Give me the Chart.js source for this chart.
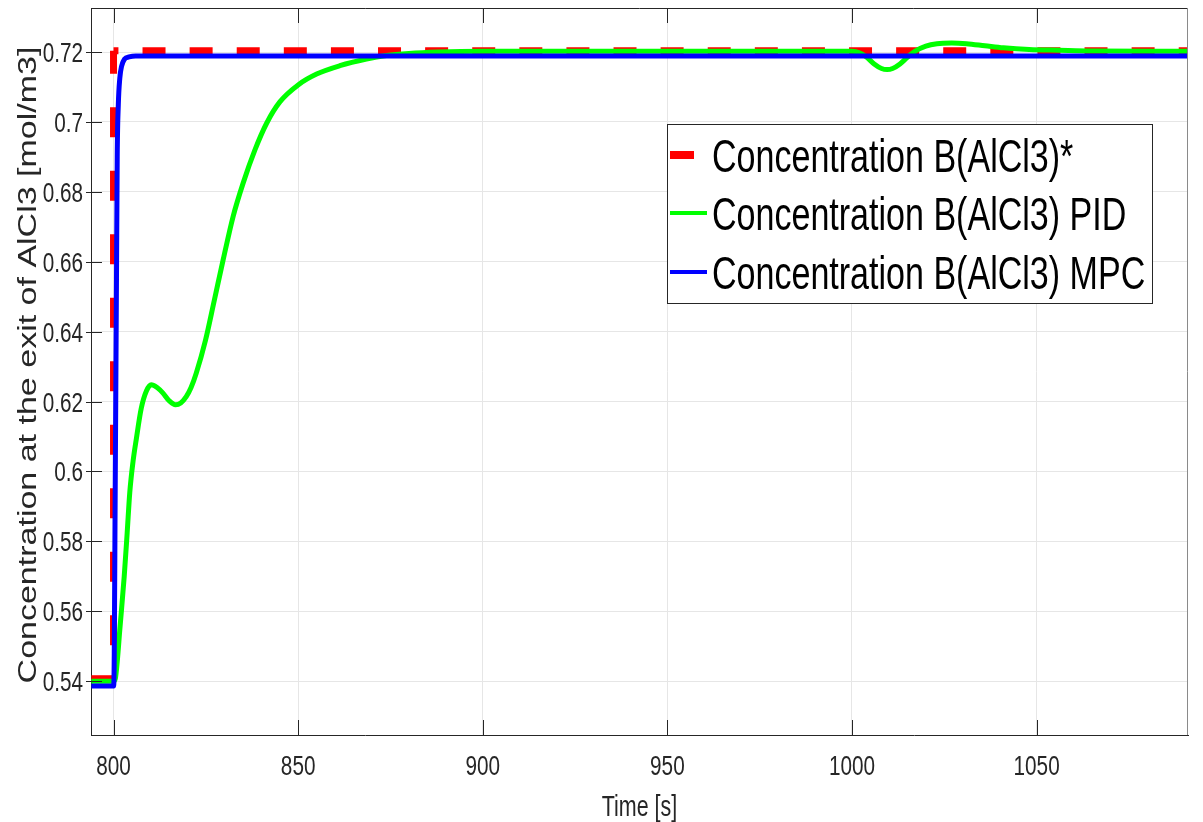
<!DOCTYPE html>
<html>
<head>
<meta charset="utf-8">
<title>Concentration B(AlCl3)</title>
<script src="https://cdn.jsdelivr.net/npm/chart.js@4.4.1/dist/chart.umd.min.js"></script>
<style>
  html, body { margin: 0; padding: 0; background: #fff; }
  #wrap { width: 1203px; height: 822px; position: relative; }
</style>
</head>
<body>
<div id="wrap"><canvas id="myChart"></canvas></div>
<script>
// Reference (setpoint) B(AlCl3)*
const refTime = [794, 800, 800, 1091];
const refConc = [0.5407, 0.5407, 0.7204, 0.7204];

// PID response
const pidTime = [794, 800, 800.5, 801, 801.7, 802.9, 803.7, 804.4, 805.3, 806.2, 807.5, 808.9, 810.2, 811.8, 813.4, 815, 816.8, 818.2, 819.7, 821, 822.4, 824.9, 827.3, 829.7, 832.4, 835.1, 838.3, 841.5, 845.1, 850, 855, 861.3, 868.5, 873.9, 880, 888, 900, 1000, 1002, 1004, 1006, 1008, 1009.5, 1011, 1013, 1015, 1017, 1020, 1023, 1027, 1031, 1036, 1041, 1048, 1056, 1065, 1091];
const pidConc = [0.540, 0.540, 0.5408, 0.5455, 0.5547, 0.5700, 0.5825, 0.5940, 0.6030, 0.6095, 0.6180, 0.6230, 0.6248, 0.6240, 0.6224, 0.6203, 0.6191, 0.6196, 0.6214, 0.6240, 0.6281, 0.6375, 0.6490, 0.6606, 0.6730, 0.6825, 0.6920, 0.6997, 0.7058, 0.7106, 0.7137, 0.7161, 0.7180, 0.7190, 0.7196, 0.7200, 0.7202, 0.7202, 0.7198, 0.7185, 0.7166, 0.7153, 0.7150, 0.7153, 0.7166, 0.7185, 0.7202, 0.7217, 0.7224, 0.7226, 0.7224, 0.7218, 0.7212, 0.7207, 0.7205, 0.7203, 0.7202];

// MPC response
const mpcTime = [794, 800.05, 800.2, 800.4, 800.6, 800.8, 801.0, 801.3, 801.7, 802.2, 803.0, 804.2, 806, 1091];
const mpcConc = [0.5386, 0.5386, 0.548, 0.585, 0.62, 0.655, 0.69, 0.705, 0.7125, 0.716, 0.718, 0.7186, 0.7189, 0.7189];

// axes
const xTicks = [800, 850, 900, 950, 1000, 1050];
const xTickLabels = ["800", "850", "900", "950", "1000", "1050"];
const yTicks = [0.54, 0.56, 0.58, 0.6, 0.62, 0.64, 0.66, 0.68, 0.7, 0.72];
const yTickLabels = ["0.54", "0.56", "0.58", "0.6", "0.62", "0.64", "0.66", "0.68", "0.7", "0.72"];
const xTitle = "Time [s]";
const yTitle = "Concentration at the exit of AlCl3 [mol/m3]";

const labels = ["Concentration B(AlCl3)*", "Concentration B(AlCl3) PID", "Concentration B(AlCl3) MPC"];

const family = "'Liberation Sans', Arial, sans-serif";
const axisColor = '#262626';
const squeeze = 0.74; // text in the original is horizontally condensed

function toPoints(xs, ys) {
  return xs.map(function (x, i) { return { x: x, y: ys[i] }; });
}

// condensed text helper
function squeezedText(ctx, text, x, y, size, align, color) {
  ctx.save();
  ctx.translate(x, y);
  ctx.scale(squeeze, 1);
  ctx.font = size + "px " + family;
  ctx.fillStyle = color;
  ctx.textAlign = align;
  ctx.textBaseline = 'alphabetic';
  ctx.fillText(text, 0, 0);
  ctx.restore();
}

// MATLAB-ish box: top/right frame, inward tick marks, tick labels, axis titles
const framePlugin = {
  id: 'frame',
  afterDraw(chart) {
    const { ctx, chartArea: a, scales } = chart;
    ctx.save();
    ctx.lineWidth = 1;
    ctx.strokeStyle = axisColor;
    ctx.beginPath();
    ctx.moveTo(a.left, a.top + 0.5);
    ctx.lineTo(a.right, a.top + 0.5);
    xTicks.forEach(function (v) {
      const px = Math.round(scales.x.getPixelForValue(v)) + 0.5;
      ctx.moveTo(px, a.bottom);
      ctx.lineTo(px, a.bottom - 15);
      ctx.moveTo(px, a.top);
      ctx.lineTo(px, a.top + 15);
    });
    yTicks.forEach(function (v) {
      const py = Math.round(scales.y.getPixelForValue(v)) + 0.5;
      ctx.moveTo(a.left - 5, py);
      ctx.lineTo(a.left + 11, py);
    });
    ctx.stroke();
    ctx.strokeStyle = '#8a8a8a';
    ctx.beginPath();
    ctx.moveTo(a.right - 0.5, a.top);
    ctx.lineTo(a.right - 0.5, a.bottom);
    ctx.stroke();
    ctx.restore();

    xTicks.forEach(function (v, i) {
      squeezedText(ctx, xTickLabels[i], scales.x.getPixelForValue(v), a.bottom + 40, 28, 'center', axisColor);
    });
    yTicks.forEach(function (v, i) {
      squeezedText(ctx, yTickLabels[i], a.left - 8, scales.y.getPixelForValue(v) + 10, 28, 'right', axisColor);
    });
    squeezedText(ctx, xTitle, (a.left + a.right) / 2, 816, 29, 'center', axisColor);

    // rotated y title
    ctx.save();
    ctx.translate(36, 365);
    ctx.rotate(-Math.PI / 2);
    ctx.scale(1, squeeze);
    ctx.font = "34px " + family;
    ctx.fillStyle = axisColor;
    ctx.textAlign = 'center';
    ctx.textBaseline = 'alphabetic';
    ctx.fillText(yTitle, 0, 0);
    ctx.restore();
  }
};

// legend box drawn inside the plot
const legendPlugin = {
  id: 'boxLegend',
  afterDraw(chart) {
    const ctx = chart.ctx;
    const box = { x: 667, y: 124, w: 485, h: 179 };
    const rows = [155, 213, 272];
    ctx.save();
    ctx.fillStyle = '#fff';
    ctx.fillRect(box.x, box.y, box.w, box.h);
    ctx.strokeStyle = axisColor;
    ctx.lineWidth = 1;
    ctx.strokeRect(box.x + 0.5, box.y + 0.5, box.w, box.h);
    chart.data.datasets.forEach(function (ds, i) {
      const y = rows[i];
      ctx.fillStyle = ds.borderColor;
      if (i === 0) {
        ctx.fillRect(670, y - 4, 24, 8);
      } else {
        ctx.fillRect(670, y - 2, 37, 4);
      }
      squeezedText(ctx, ds.label, 712, y + 17, 46, 'left', '#000');
    });
    ctx.restore();
  }
};

new Chart(document.getElementById('myChart'), {
  type: 'line',
  data: {
    datasets: [
      {
        label: labels[0],
        data: toPoints(refTime, refConc),
        borderColor: '#ff0000',
        borderWidth: 7,
        pointRadius: 0,
        tension: 0,
        order: 3,
        segment: {
          borderDash: function (c) {
            return refTime[c.p0DataIndex] === refTime[c.p1DataIndex] ? [30, 33.5] : [23, 24.1];
          },
          borderDashOffset: function (c) {
            if (refTime[c.p0DataIndex] === refTime[c.p1DataIndex]) return 30;
            return c.p0DataIndex === 0 ? 0 : 18.1;
          }
        }
      },
      {
        label: labels[1],
        data: toPoints(pidTime, pidConc),
        borderColor: '#00ff00',
        borderWidth: 5,
        pointRadius: 0,
        cubicInterpolationMode: 'monotone',
        order: 2
      },
      {
        label: labels[2],
        data: toPoints(mpcTime, mpcConc),
        borderColor: '#0000ff',
        borderWidth: 5,
        pointRadius: 0,
        cubicInterpolationMode: 'monotone',
        order: 1
      }
    ]
  },
  options: {
    responsive: true,
    maintainAspectRatio: false,
    animation: false,
    events: [],
    layout: { padding: { top: 8, right: 15, left: 0, bottom: 0 } },
    plugins: {
      legend: { display: false },
      tooltip: { enabled: false }
    },
    scales: {
      x: {
        type: 'linear',
        min: 793.9,
        max: 1091,
        afterFit: function (s) { s.height = 87; },
        afterBuildTicks: function (s) { s.ticks = xTicks.map(function (v) { return { value: v }; }); },
        grid: { color: '#e6e6e6', drawTicks: false },
        border: { color: axisColor, width: 1 },
        ticks: { display: false }
      },
      y: {
        type: 'linear',
        min: 0.5246,
        max: 0.7326,
        afterFit: function (s) { s.width = 91; },
        afterBuildTicks: function (s) { s.ticks = yTicks.map(function (v) { return { value: v }; }); },
        grid: { color: '#e6e6e6', drawTicks: false },
        border: { color: axisColor, width: 1 },
        ticks: { display: false }
      }
    }
  },
  plugins: [framePlugin, legendPlugin]
});
</script>
</body>
</html>
